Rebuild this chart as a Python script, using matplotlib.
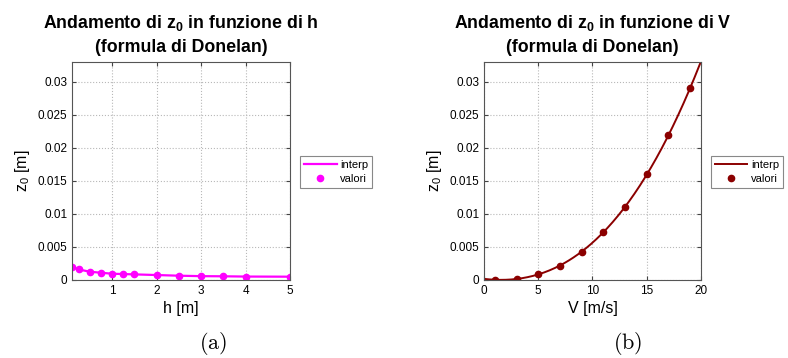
import numpy as np
import matplotlib
matplotlib.use("Agg")
import matplotlib.pyplot as plt

plt.rcParams['font.family'] = ['Liberation Sans', 'DejaVu Sans']
plt.rcParams['mathtext.fontset'] = 'custom'
plt.rcParams['mathtext.rm'] = 'Liberation Sans'
plt.rcParams['mathtext.it'] = 'Liberation Sans'
plt.rcParams['mathtext.bf'] = 'Liberation Sans:bold'

# z0 vs depth h
h_vals = [0.1, 0.25, 0.5, 0.75, 1.0, 1.25, 1.5, 2.0, 2.5, 3.0, 3.5, 4.0, 5.0]
z0_h = [0.0020, 0.0016, 0.00125, 0.0011, 0.00095, 0.0009, 0.00085,
        0.00075, 0.00065, 0.00058, 0.00056, 0.00052, 0.0005]

# z0 vs wind speed V
v_vals = [1, 3, 5, 7, 9, 11, 13, 15, 17, 19]
z0_v = [0.0, 0.0002, 0.0009, 0.00215, 0.0043, 0.0072, 0.011, 0.016, 0.022, 0.029]

h_ticks = [1, 2, 3, 4, 5]
v_ticks = [0, 5, 10, 15, 20]
y_ticks = [0, 0.005, 0.01, 0.015, 0.02, 0.025, 0.03]
y_ticklabels = ['0', '0.005', '0.01', '0.015', '0.02', '0.025', '0.03']

fig = plt.figure(figsize=(7.88, 3.58), dpi=100)
ax1 = fig.add_axes([0.0914, 0.2179, 0.2766, 0.609])
ax2 = fig.add_axes([0.6142, 0.2179, 0.2754, 0.609])

def style_axes(ax):
    ax.set_ylim(0, 0.033)
    ax.set_yticks(y_ticks)
    ax.set_yticklabels(y_ticklabels)
    ax.grid(True, linestyle=':', color='#b8b8b8', linewidth=0.8)
    ax.tick_params(direction='in', top=True, right=True, labelsize=8.5,
                   length=3, color='#444444')
    for s in ax.spines.values():
        s.set_color('#555555')
        s.set_linewidth(0.8)

def add_legend(ax):
    leg = ax.legend(loc='center left', bbox_to_anchor=(1.035, 0.495),
                    fontsize=8, fancybox=False, framealpha=1,
                    edgecolor='#888888', handlelength=2.9,
                    borderpad=0.4, labelspacing=0.35, handletextpad=0.3,
                    borderaxespad=0.2)
    leg.get_frame().set_linewidth(0.8)

def set_title(ax, var):
    ax.set_title('Andamento di z$_\\mathbf{0}$ in funzione di ' + var + '\n(formula di Donelan)',
                 fontsize=12.8, fontweight='bold', linespacing=1.45, pad=7)

# left panel: straight segments between computed values
col1 = '#ff00ff'
ax1.plot(h_vals, z0_h, '-', color=col1, lw=1.6, label='interp')
ax1.plot(h_vals, z0_h, 'o', color=col1, ms=4.5, label='valori')
ax1.set_xlim(0.1, 5)
ax1.set_xticks(h_ticks)
style_axes(ax1)
ax1.set_xlabel('h [m]', fontsize=11.5, labelpad=3)
ax1.set_ylabel(r'z$_0$ [m]', fontsize=11.5)
set_title(ax1, 'h')
add_legend(ax1)

# right panel: cubic fit through the values, drawn out to V = 20
col2 = '#8b0000'
coef = np.polyfit(v_vals, z0_v, 3)
v_fine = np.linspace(0, 20, 200)
ax2.plot(v_fine, np.clip(np.polyval(coef, v_fine), 0, None), '-', color=col2,
         lw=1.4, label='interp')
ax2.plot(v_vals, z0_v, 'o', color=col2, ms=4.5, label='valori')
ax2.set_xlim(0, 20)
ax2.set_xticks(v_ticks)
style_axes(ax2)
ax2.set_xlabel('V [m/s]', fontsize=11.5, labelpad=3)
ax2.set_ylabel(r'z$_0$ [m]', fontsize=11.5)
set_title(ax2, 'V')
add_legend(ax2)

fig.text(0.271, 0.025, r'$(\mathrm{a})$', math_fontfamily='cm', fontsize=16, ha='center')
fig.text(0.796, 0.025, r'$(\mathrm{b})$', math_fontfamily='cm', fontsize=16, ha='center')

fig.savefig('out.png', dpi=100)
